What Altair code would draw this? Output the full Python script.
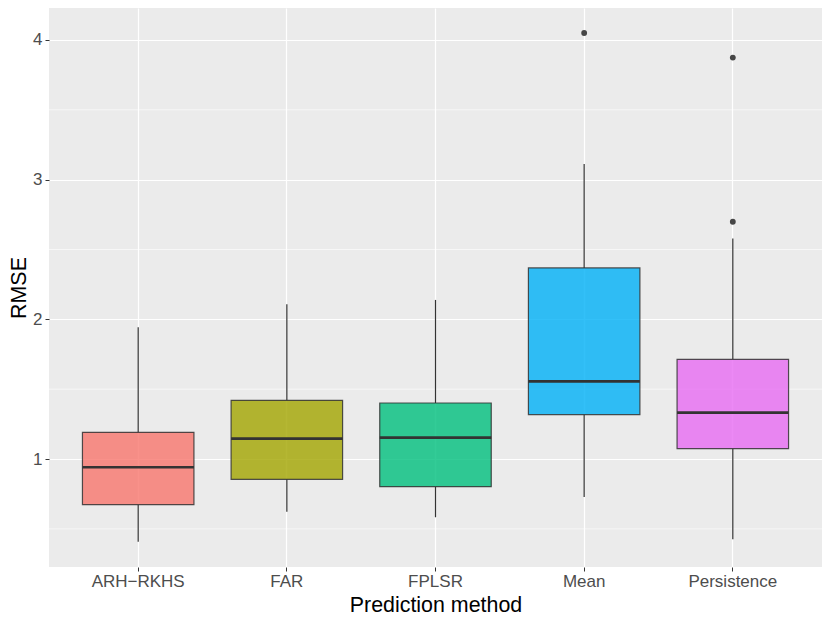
import altair as alt
import pandas as pd

methods = ["ARH\u2212RKHS", "FAR", "FPLSR", "Mean", "Persistence"]
lower = [0.408, 0.623, 0.583, 0.728, 0.425]
q1 = [0.673, 0.855, 0.802, 1.318, 1.074]
median = [0.941, 1.146, 1.153, 1.556, 1.332]
q3 = [1.191, 1.420, 1.401, 2.368, 1.714]
upper = [1.943, 2.108, 2.139, 3.112, 2.578]
colors = ["#F8766D", "#A3A500", "#00BF7D", "#00B0F6", "#E76BF3"]

outlier_method = ["Mean", "Persistence", "Persistence"]
outlier_value = [4.050, 3.874, 2.699]

major_ticks = [1, 2, 3, 4]
minor_ticks = [0.5, 1.5, 2.5, 3.5]

box = pd.DataFrame({"method": methods, "lower": lower, "q1": q1,
                    "median": median, "q3": q3, "upper": upper})
out = pd.DataFrame({"method": outlier_method, "value": outlier_value})
minor = pd.DataFrame({"v": minor_ticks})

FONT = "Liberation Sans"
ydom = [0.227, 4.229]

xscale = alt.Scale(type="band", domain=methods, paddingInner=0.25, paddingOuter=0.225)
yscale = alt.Scale(domain=ydom, nice=False, zero=False)

xenc = alt.X("method:N", scale=xscale, sort=methods,
             axis=alt.Axis(title="Prediction method", bandPosition=0.5,
                           grid=True, gridColor="white", gridWidth=1.2,
                           domain=False, tickColor="#333333", tickSize=4, tickWidth=1,
                           labelColor="#4D4D4D", labelFontSize=17, labelFont=FONT,
                           labelPadding=2, labelAngle=0,
                           titleFont=FONT, titleFontSize=21.4, titleColor="black",
                           titleFontWeight="normal", titleY=44, titleBaseline="alphabetic"))

yaxis = alt.Axis(title="RMSE", values=major_ticks, format="d", grid=True, gridColor="white",
                 gridWidth=1.2, domain=False, tickColor="#333333", tickSize=4,
                 tickWidth=1, labelColor="#4D4D4D", labelFontSize=17, labelFont=FONT,
                 labelPadding=3, titleFont=FONT, titleFontSize=21.4, titleColor="black",
                 titleFontWeight="normal", titleX=-24, titleBaseline="alphabetic")

base = alt.Chart(box)

minor_rules = alt.Chart(minor).mark_rule(color="white", strokeWidth=0.6).encode(
    y=alt.Y("v:Q", scale=yscale, axis=yaxis)
)

whisk_low = base.mark_rule(color="#333333", strokeWidth=1.2).encode(
    x=xenc,
    y=alt.Y("lower:Q", scale=yscale),
    y2="q1:Q",
)
whisk_up = base.mark_rule(color="#333333", strokeWidth=1.2).encode(
    x=alt.X("method:N", scale=xscale, sort=methods),
    y=alt.Y("q3:Q", scale=yscale),
    y2="upper:Q",
)
boxes = base.mark_bar(stroke="#333333", strokeWidth=1.2, fillOpacity=0.8,
                      strokeOpacity=0.85).encode(
    x=alt.X("method:N", scale=xscale, sort=methods),
    y=alt.Y("q1:Q", scale=yscale),
    y2="q3:Q",
    fill=alt.Fill("method:N", scale=alt.Scale(domain=methods, range=colors), legend=None),
)
medians = base.mark_bar(stroke="#333333", strokeWidth=2.6, fillOpacity=0).encode(
    x=alt.X("method:N", scale=xscale, sort=methods),
    y=alt.Y("median:Q", scale=yscale),
    y2="median:Q",
)
points = alt.Chart(out).mark_circle(color="#333333", size=34, opacity=0.9).encode(
    x=alt.X("method:N", scale=xscale, sort=methods),
    y=alt.Y("value:Q", scale=yscale),
)

chart = alt.layer(minor_rules, whisk_low, whisk_up, boxes, medians, points).properties(
    width=773, height=559,
    autosize=alt.AutoSizeParams(type="none"),
    padding={"left": 41, "top": 0, "right": 0, "bottom": 48},
).configure_view(fill="#EBEBEB", strokeWidth=0)

chart.save("out.html", embed_options={"renderer": "svg", "actions": False})
